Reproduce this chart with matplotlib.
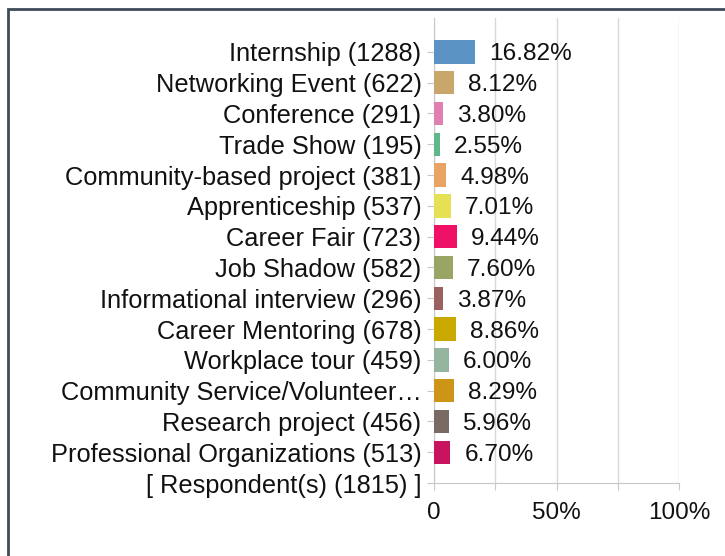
import numpy as np
import matplotlib.pyplot as plt
from matplotlib.patches import Rectangle

plt.rcParams['font.family'] = ['Liberation Sans', 'DejaVu Sans']

labels = ["Internship (1288)", "Networking Event (622)", "Conference (291)",
          "Trade Show (195)", "Community-based project (381)",
          "Apprenticeship (537)", "Career Fair (723)", "Job Shadow (582)",
          "Informational interview (296)", "Career Mentoring (678)",
          "Workplace tour (459)", "Community Service/Volunteer\u2026",
          "Research project (456)", "Professional Organizations (513)",
          "[ Respondent(s) (1815) ]"]
percents = [16.82, 8.12, 3.80, 2.55, 4.98, 7.01, 9.44, 7.60, 3.87, 8.86,
            6.00, 8.29, 5.96, 6.70]
colors = ["#5b93c4", "#c9a66b", "#e080b0", "#5fb88a", "#e9a365", "#e6e055",
          "#ee1166", "#98a565", "#9b6060", "#c9a800", "#95b59e", "#cc9516",
          "#7a6a66", "#c8135f"]

fig = plt.figure(figsize=(7.25, 5.56), dpi=100)
ax = fig.add_axes([434 / 725, 1 - 483 / 556, (679 - 434) / 725, (483 - 18) / 556])

n = len(labels)
ypos = np.arange(n)[::-1]
ax.barh(ypos[:len(percents)], percents, height=0.76, color=colors, zorder=3)

for y, p in zip(ypos, percents):
    ax.annotate(f"{p:.2f}%", (p, y), xytext=(10, 0), textcoords="offset points",
                ha="left", va="center_baseline", fontsize=17.6, color="#111111",
                zorder=4)

ax.set_xlim(0, 100)
ax.set_ylim(0, n + 0.1)
ax.set_yticks(ypos)
ax.set_yticklabels(labels, fontsize=18.3, color="#111111", va="center_baseline")
ax.set_xticks([0, 25, 50, 75, 100])
ax.set_xticklabels(["0", "", "50%", "", "100%"], fontsize=17.5, color="#111111")
ax.tick_params(axis="y", length=5, color="#c8c8c8", pad=4)
ax.tick_params(axis="x", length=5, color="#c8c8c8", pad=9)
ax.grid(axis="x", color="#d8d8d8", linewidth=1, zorder=0)

for side in ["top", "right"]:
    ax.spines[side].set_visible(False)
for side in ["left", "bottom"]:
    ax.spines[side].set_color("#c8c8c8")

fig.patches.append(Rectangle((8 / 725, -0.1), 1.2, 1 - 9 / 556 + 0.1,
                             transform=fig.transFigure, fill=False,
                             edgecolor="#3f4b5b", linewidth=2))

fig.savefig("out.png", dpi=100)
